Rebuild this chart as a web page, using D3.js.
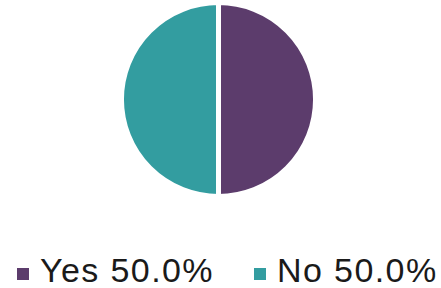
<!DOCTYPE html>
<html>
<head>
<meta charset="utf-8">
<script src="https://cdn.jsdelivr.net/npm/d3@7"></script>
<style>
  body { margin: 0; background: #fff; }
  svg { display: block; }
</style>
</head>
<body>
<svg id="output"></svg>
<script>
// chart data
const labels = ["Yes", "No"];
const values = [50.0, 50.0];
const colors = ["#5c3c6c", "#339da0"];

const width = 441;
const height = 288;
const cx = 218.5, cy = 99.5, radius = 97; // white stroke eats ~2.5px of the edge

const svg = d3.select("#output")
    .attr("width", width)
    .attr("height", height)
    .attr("viewBox", [0, 0, width, height]);

const total = d3.sum(values);
const pie = d3.pie().sort(null).value(d => d)(values);
const arc = d3.arc().innerRadius(0).outerRadius(radius);

svg.append("g")
    .attr("transform", `translate(${cx},${cy})`)
    .selectAll("path")
    .data(pie)
    .enter()
    .append("path")
    .attr("d", arc)
    .attr("fill", (d, i) => colors[i])
    .attr("stroke", "#fff")
    .attr("stroke-width", 5);

// legend
const legendX = [17, 254];
const legend = svg.append("g")
    .selectAll("g")
    .data(labels)
    .enter()
    .append("g")
    .attr("transform", (d, i) => `translate(${legendX[i]},0)`);

legend.append("rect")
    .attr("x", 0)
    .attr("y", 268)
    .attr("width", 12)
    .attr("height", 12)
    .attr("fill", (d, i) => colors[i]);

legend.append("text")
    .attr("x", 23)
    .attr("y", 282)
    .attr("font-family", "Liberation Sans, Arial, sans-serif")
    .attr("font-size", 34)
    .attr("letter-spacing", 1.4)
    .attr("fill", "#1a1a1a")
    .text((d, i) => `${d} ${(values[i] / total * 100).toFixed(1)}%`);
</script>
</body>
</html>
